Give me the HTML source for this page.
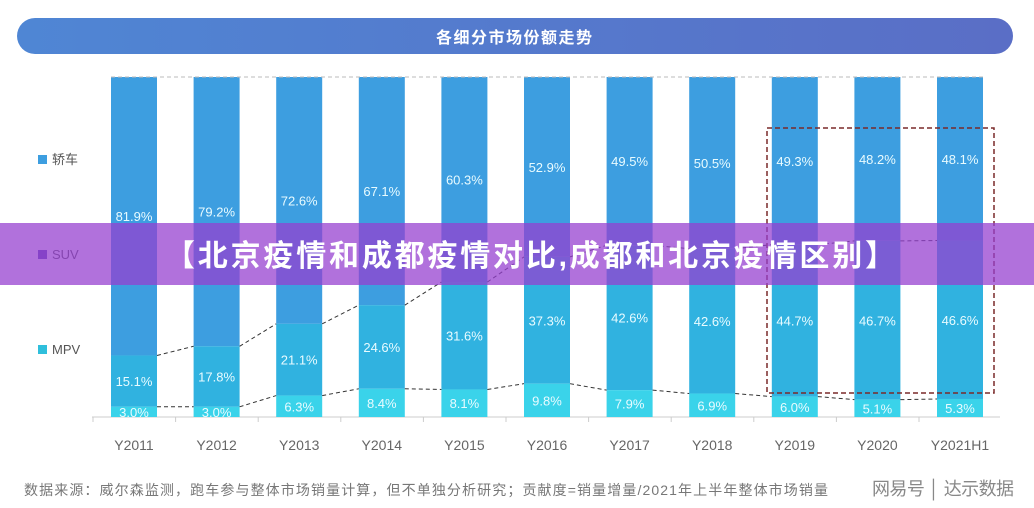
<!DOCTYPE html>
<html><head><meta charset="utf-8"><style>
html,body{margin:0;padding:0;background:#fff;}
body{width:1034px;height:508px;overflow:hidden;position:relative;font-family:"Liberation Sans","Noto Sans CJK SC",sans-serif;}
</style></head><body>
<svg width="1034" height="508" viewBox="0 0 1034 508" xmlns="http://www.w3.org/2000/svg" style="position:absolute;left:0;top:0">
<defs>
<linearGradient id="hg" x1="0" x2="1" y1="0" y2="0">
<stop offset="0" stop-color="#4f86d4"/><stop offset="1" stop-color="#5a6ec6"/>
</linearGradient>
</defs>
<rect x="17" y="18" width="996" height="36" rx="18" fill="url(#hg)"/>
<text x="514" y="43" fill="#fff" font-size="16" font-weight="bold" text-anchor="middle" textLength="156" font-family="Liberation Sans, Noto Sans CJK SC, sans-serif">各细分市场份额走势</text>
<g font-family="Liberation Sans, Noto Sans CJK SC, sans-serif" font-size="13" fill="#555">
<rect x="38" y="155" width="9" height="9" fill="#3d9ee0"/><text x="52" y="164">轿车</text>
<rect x="38" y="250" width="9" height="9" fill="#5a4ab0"/><text x="52" y="259">SUV</text>
<rect x="38" y="345" width="9" height="9" fill="#2fbfdc"/><text x="52" y="354">MPV</text>
</g>
<line x1="92" y1="417" x2="1000" y2="417" stroke="#ccc" stroke-width="1"/>
<g id="bars"></g>
<rect x="767" y="128" width="227" height="265" fill="none" stroke="#7a2a2a" stroke-width="1.5" stroke-dasharray="5,3"/>
<g font-family="Liberation Sans, Noto Sans CJK SC, sans-serif" fill="#777">
<text x="24" y="495" font-size="14" textLength="804">数据来源：威尔森监测，跑车参与整体市场销量计算，但不单独分析研究；贡献度=销量增量/2021年上半年整体市场销量</text>
<text x="872" y="495" font-size="18" fill="#888" textLength="142">网易号 │ 达示数据</text>
</g>
<rect x="0" y="223" width="1034" height="62" fill="rgba(150,64,208,0.74)"/>
<text x="530" y="266" fill="#fff" font-size="30" font-weight="bold" text-anchor="middle" textLength="730" font-family="Liberation Sans, Noto Sans CJK SC, sans-serif">【北京疫情和成都疫情对比,成都和北京疫情区别】</text>
</svg>
<script>
var s=[81.9,79.2,72.6,67.1,60.3,52.9,49.5,50.5,49.3,48.2,48.1];
var u=[15.1,17.8,21.1,24.6,31.6,37.3,42.6,42.6,44.7,46.7,46.6];
var m=[3.0,3.0,6.3,8.4,8.1,9.8,7.9,6.9,6.0,5.1,5.3];
var lab=["Y2011","Y2012","Y2013","Y2014","Y2015","Y2016","Y2017","Y2018","Y2019","Y2020","Y2021H1"];
var T=77,H=340,W=46,h='';
var prev=null;
for(var i=0;i<11;i++){
 var cx=134+i*82.6,x=cx-W/2;
 var y1=T+s[i]/100*H, y2=y1+u[i]/100*H;
 h+='<rect x="'+x+'" y="'+T+'" width="'+W+'" height="'+(y1-T)+'" fill="#3d9ee0"/>';
 h+='<rect x="'+x+'" y="'+y1+'" width="'+W+'" height="'+(y2-y1)+'" fill="#30b2e0"/>';
 h+='<rect x="'+x+'" y="'+y2+'" width="'+W+'" height="'+(417-y2)+'" fill="#3ad3ea"/>';
 var f='font-family="Liberation Sans, sans-serif" font-size="13" fill="#e8fbff" text-anchor="middle"';
 h+='<text x="'+cx+'" y="'+((T+y1)/2+5)+'" '+f+'>'+s[i].toFixed(1)+'%</text>';
 h+='<text x="'+cx+'" y="'+((y1+y2)/2+5)+'" '+f+'>'+u[i].toFixed(1)+'%</text>';
 h+='<text x="'+cx+'" y="'+((y2+417)/2+5)+'" '+f+' font-size="12">'+m[i].toFixed(1)+'%</text>';
 h+='<text x="'+cx+'" y="450" font-family="Liberation Sans, sans-serif" font-size="14" fill="#666" text-anchor="middle">'+lab[i]+'</text>';
 h+='<line x1="'+(cx-41)+'" y1="417" x2="'+(cx-41)+'" y2="422" stroke="#ccc"/>';
 if(prev){
  h+='<line x1="'+prev[0]+'" y1="'+prev[1]+'" x2="'+x+'" y2="'+y1+'" stroke="#333" stroke-dasharray="4,3"/>';
  h+='<line x1="'+prev[0]+'" y1="'+prev[2]+'" x2="'+x+'" y2="'+y2+'" stroke="#333" stroke-dasharray="4,3"/>';
 }
 prev=[x+W,y1,y2];
}
h+='<line x1="'+(134-23)+'" y1="'+T+'" x2="'+(960+23)+'" y2="'+T+'" stroke="#bbb" stroke-dasharray="4,3"/>';
document.getElementById('bars').innerHTML=h;
</script>
</body></html>
